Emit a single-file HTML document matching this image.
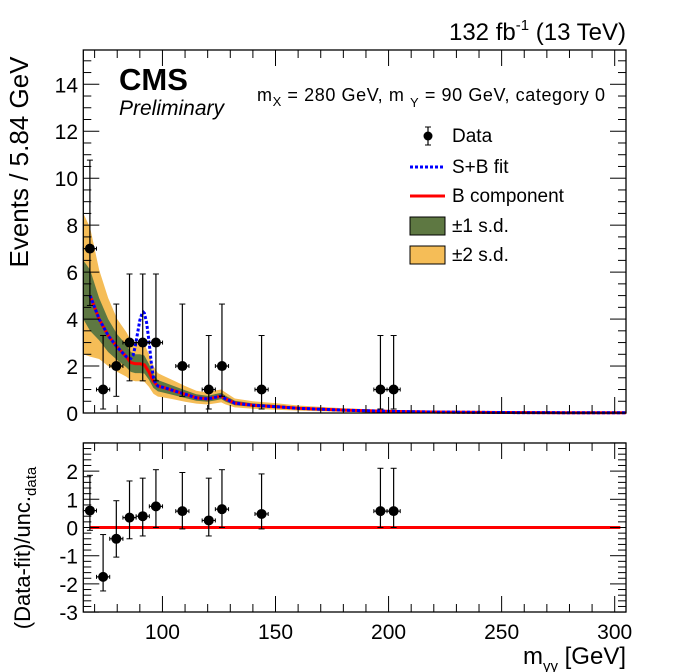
<!DOCTYPE html>
<html><head><meta charset="utf-8"><style>
body{margin:0;background:#fff;}
svg{display:block;font-family:"Liberation Sans",Arial,sans-serif;}
</style></head><body>
<svg id="c" width="696" height="672" viewBox="0 0 696 672">
<g id="bands"></g><g id="curves"></g><g id="pts"></g><g id="axes"></g>
<text x="626" y="40" text-anchor="end" font-size="24">132 fb<tspan dy="-10" font-size="15">-1</tspan><tspan dy="10"> (13 TeV)</tspan></text>
<text x="119" y="90" font-size="31" font-weight="bold">CMS</text>
<text x="119" y="115" font-size="21" font-style="italic">Preliminary</text>
<text x="257" y="101" font-size="18" textLength="348">m<tspan dy="5" font-size="13">X</tspan><tspan dy="-5"> = 280 GeV, m </tspan><tspan dy="6" font-size="13">Y</tspan><tspan dy="-6"> = 90 GeV, category 0</tspan></text>
<g>
 <g><line x1="428" y1="127" x2="428" y2="145" stroke="#000" stroke-width="1.2"/><line x1="425" y1="127" x2="431" y2="127" stroke="#000"/><line x1="425" y1="145" x2="431" y2="145" stroke="#000"/><circle cx="428" cy="136" r="4.5" fill="#000"/><text x="452" y="142" font-size="19">Data</text></g>
 <g><line x1="410" y1="167" x2="445" y2="167" stroke="#0000ff" stroke-width="3" stroke-dasharray="3,2"/><text x="452" y="173" font-size="19">S+B fit</text></g>
 <g><line x1="410" y1="196" x2="445" y2="196" stroke="#ff0000" stroke-width="3"/><text x="452" y="202" font-size="19">B component</text></g>
 <g><rect x="410" y="217" width="35" height="18" fill="#5e7842" stroke="#000"/><text x="452" y="232" font-size="19">±1 s.d.</text></g>
 <g><rect x="410" y="246" width="35" height="18" fill="#f5bd57" stroke="#000"/><text x="452" y="261" font-size="19">±2 s.d.</text></g>
</g>
<text transform="translate(28,162) rotate(-90)" text-anchor="middle" font-size="26">Events / 5.84 GeV</text>
<text transform="translate(30,548) rotate(-90)" text-anchor="middle" font-size="22">(Data-fit)/unc.<tspan dy="6" font-size="15">data</tspan></text>
<text x="626" y="664" text-anchor="end" font-size="24">m<tspan dy="7" font-size="15">γγ</tspan><tspan dy="-7"> [GeV]</tspan></text>
</svg>
<script>
const massX=[65,68,72,76,80,84,86,88,90,92,94,96,98,100,105,110,115,120,124,126,128,132,140,150,160,180,200,220,250,280,305];
const bVals=[5.4,5.0,4.0,3.3,2.8,2.4,2.15,2.1,2.1,2.05,1.75,1.35,1.15,1.1,0.95,0.8,0.65,0.6,0.68,0.72,0.6,0.42,0.33,0.27,0.2,0.12,0.07,0.04,0.02,0.012,0.008];
const s1Hi=[6.5,6.1,4.9,4.0,3.35,2.9,2.6,2.5,2.5,2.45,2.1,1.65,1.4,1.33,1.15,0.97,0.8,0.73,0.82,0.86,0.73,0.52,0.41,0.34,0.26,0.16,0.1,0.06,0.03,0.02,0.014];
const s1Lo=[4.0,3.5,3.1,2.6,2.25,1.95,1.75,1.7,1.7,1.68,1.42,1.07,0.92,0.88,0.76,0.64,0.52,0.48,0.55,0.59,0.48,0.33,0.26,0.21,0.15,0.09,0.05,0.025,0.012,0.006,0.003];
const s2Hi=[8.5,7.9,6.1,4.9,4.0,3.45,3.1,3.0,3.0,2.95,2.5,2.0,1.7,1.6,1.38,1.15,0.95,0.87,0.97,1.0,0.87,0.62,0.5,0.42,0.32,0.2,0.13,0.08,0.045,0.03,0.02];
const s2Lo=[2.5,2.4,2.3,2.0,1.75,1.55,1.4,1.35,1.35,1.33,1.12,0.82,0.7,0.67,0.58,0.48,0.4,0.36,0.42,0.45,0.36,0.24,0.18,0.14,0.1,0.05,0.02,0.01,0.004,0.002,0.001];
const sbX=[84,86,87,88,89,90,91,91.5,92,93,94,95,96,97];
const sbY=[2.4,2.32,2.45,2.85,3.4,3.95,4.25,4.3,4.25,3.85,3.1,2.2,1.5,1.25];
const dataX=[67.92,73.76,79.6,85.44,91.28,97.12,108.8,120.48,126.32,143.84,196.4,202.24];
const dataY=[7,1,2,3,3,3,2,1,2,1,1,1];
const dataLo=[4.58,0.17,0.71,1.37,1.37,1.37,0.71,0.17,0.71,0.17,0.17,0.17];
const dataHi=[10.77,3.3,4.64,5.92,5.92,5.92,4.64,3.3,4.64,3.3,3.3,3.3];
const pullY=[0.6,-1.75,-0.4,0.35,0.4,0.75,0.58,0.25,0.65,0.48,0.58,0.58];
const pullHi=[1.85,-0.25,0.95,1.65,1.75,2.05,1.95,1.75,2.05,1.9,2.1,2.1];
const pullLo=[-0.1,-2.25,-1.05,-0.4,-0.3,0.0,-0.05,-0.3,0.0,-0.05,0.0,0.0];
const xTicks=[100,150,200,250,300];
const yTicks=[0,2,4,6,8,10,12,14];
const rTicks=[-3,-2,-1,0,1,2];
const binW=5.84;

const NS='http://www.w3.org/2000/svg';
const L=83.3,R=626;
const X=v=>L+(v-65)*(R-L)/240;
const Y=v=>413-v*(413-50)/15.46;
const RY=v=>527.5-v*28.2;
function mk(tag,attrs,parent){const e=document.createElementNS(NS,tag);for(const k in attrs)e.setAttribute(k,attrs[k]);parent.appendChild(e);return e;}
const clamp=v=>Math.max(0,Math.min(15.46,v));
const bands=document.getElementById('bands'),curves=document.getElementById('curves'),pts=document.getElementById('pts'),axes=document.getElementById('axes');
function bandPath(hi,lo){let d='';massX.forEach((m,i)=>{d+=(i?'L':'M')+X(m)+','+Y(clamp(hi[i]));});for(let i=massX.length-1;i>=0;i--)d+='L'+X(massX[i])+','+Y(clamp(lo[i]));return d+'Z';}
const b2=mk('path',{d:bandPath(s2Hi,s2Lo),fill:'#f5bd57'},bands);


const b1=mk('path',{d:bandPath(s1Hi,s1Lo),fill:'#5e7842'},bands);


const bStart=1;
const bLine=mk('path',{d:massX.slice(bStart).map((m,i)=>(i?'L':'M')+X(m)+','+Y(bVals[i+bStart])).join(''),fill:'none',stroke:'#ff0000','stroke-width':3},curves);


let sbPts=[];
massX.forEach((m,i)=>{if(i>=bStart&&(m<84||m>97))sbPts.push([m,bVals[i]]);});
sbX.forEach((m,i)=>sbPts.push([m,sbY[i]]));
sbPts.sort((a,b)=>a[0]-b[0]);
const sbLine=mk('path',{d:sbPts.map((p,i)=>(i?'L':'M')+X(p[0])+','+Y(p[1])).join(''),fill:'none',stroke:'#0000ff','stroke-width':3,'stroke-dasharray':'3,2'},curves);


function point(parent,x,y,lo,hi,yf,name){
 const g=mk('g',{},parent);
 
 
 const cx=X(x),cy=yf(y);
 mk('line',{x1:X(x-binW/2),x2:X(x+binW/2),y1:cy,y2:cy,stroke:'#000','stroke-width':1.2},g);
 mk('line',{x1:X(x-binW/2),x2:X(x-binW/2),y1:cy-2,y2:cy+2,stroke:'#000'},g);
 mk('line',{x1:X(x+binW/2),x2:X(x+binW/2),y1:cy-2,y2:cy+2,stroke:'#000'},g);
 mk('line',{x1:cx,x2:cx,y1:yf(hi),y2:yf(lo),stroke:'#000','stroke-width':1.2},g);
 mk('line',{x1:cx-3,x2:cx+3,y1:yf(hi),y2:yf(hi),stroke:'#000'},g);
 mk('line',{x1:cx-3,x2:cx+3,y1:yf(lo),y2:yf(lo),stroke:'#000'},g);
 mk('circle',{cx:cx,cy:cy,r:5,fill:'#000'},g);
}
dataX.forEach((x,i)=>point(pts,x,dataY[i],dataLo[i],dataHi[i],Y,'data-point'));
const zl=mk('line',{x1:X(67.9),x2:X(302.5),y1:RY(0),y2:RY(0),stroke:'#ff0000','stroke-width':3},pts);


dataX.forEach((x,i)=>point(pts,x,pullY[i],pullLo[i],pullHi[i],RY,'pull-point'));
function frame(top,bot,yf,ymin,ymax,major,minor,labels,name){
 const g=mk('g',{},axes);
 
 
 mk('rect',{x:L,y:top,width:R-L,height:bot-top,fill:'none',stroke:'#000','stroke-width':1.3},g);
 for(let v=70;v<=300;v+=10){const big=v%50===0;const len=big?16:8;const x=X(v);
  mk('line',{x1:x,x2:x,y1:bot,y2:bot-len,stroke:'#000'},g);mk('line',{x1:x,x2:x,y1:top,y2:top+len,stroke:'#000'},g);}
 for(let v=ymin;v<=ymax+1e-6;v+=minor){const big=Math.abs(v/major-Math.round(v/major))<1e-6;const len=big?16:8;const y=yf(v);
  if(y<top-0.5)continue;
  mk('line',{x1:L,x2:L+len,y1:y,y2:y,stroke:'#000'},g);mk('line',{x1:R,x2:R-len,y1:y,y2:y,stroke:'#000'},g);}
 labels.forEach(v=>{const t=mk('text',{x:78,y:yf(v)+8,'text-anchor':'end','font-size':21},g);t.textContent=v;});
}
frame(50,413,Y,0,15.46,2,0.5,yTicks,'main-axes');
frame(443,612,RY,-3,3,1,0.2,rTicks,'ratio-axes');
xTicks.forEach(v=>{const t=mk('text',{x:X(v),y:639,'text-anchor':'middle','font-size':21},axes);t.textContent=v;
 
 });
</script>
</body></html>
